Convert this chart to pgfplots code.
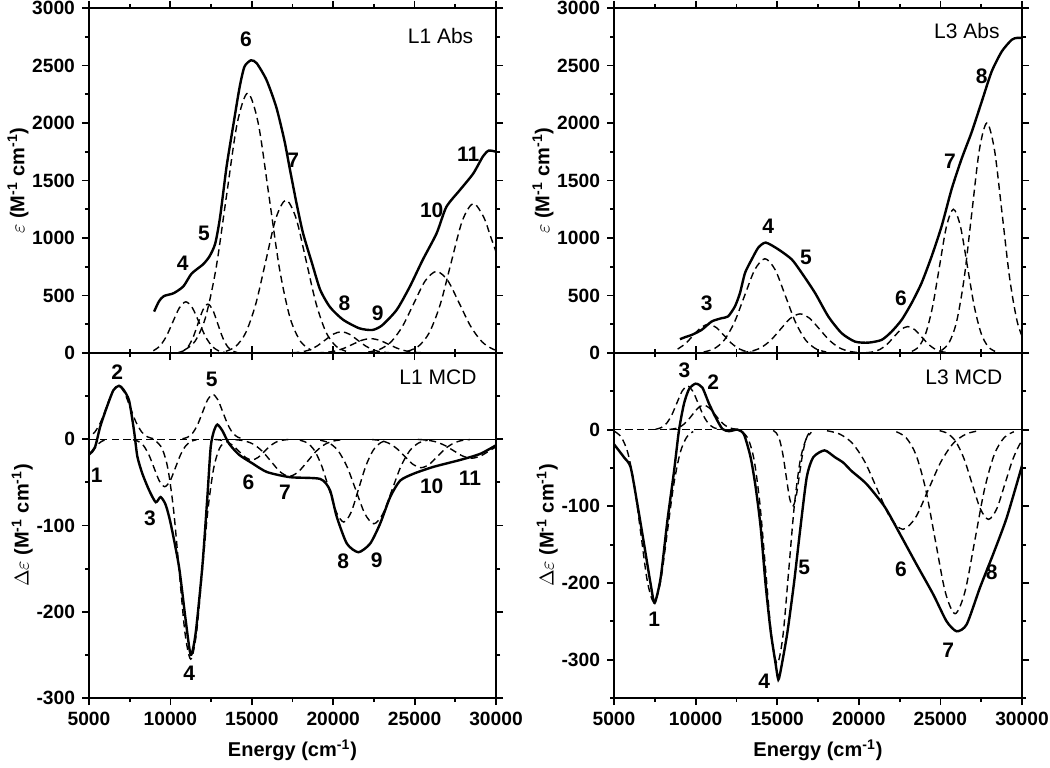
\documentclass[border=0pt]{standalone}
\usepackage{fontspec}
\setmainfont{Liberation Sans}
\usepackage{pgfplots}
\pgfplotsset{compat=1.18}

\pgfplotsset{
  spec/.style={
    scale only axis, xmin=5000, xmax=30000,
    xtick={5000,10000,15000,20000,25000,30000},
    minor xtick={7500,12500,17500,22500,27500},
    tick align=outside,
    axis line style={line width=1.1pt},
    major tick length=3.5pt, minor tick length=2pt,
    tick style={black, line width=0.9pt},
    scaled ticks=false,
    /pgf/number format/1000 sep={},
    /pgf/number format/assume math mode=true,
    tick label style={font=\fontsize{9.6}{11}\selectfont\bfseries},
    label style={font=\fontsize{10}{12}\selectfont\bfseries},
    ylabel shift=-5pt,
  },
  absax/.style={spec, width=203.5pt, height=172.5pt, ymin=0, ymax=3000,
    ytick={0,500,1000,1500,2000,2500,3000},
    minor ytick={250,750,1250,1750,2250,2750},
    xticklabels={},
    ylabel={$\varepsilon$ (M\textsuperscript{-1} cm\textsuperscript{-1})}},
  mcdax/.style={spec, width=203.5pt, height=172.5pt, ymax=100,
    ytick={-300,-200,-100,0},
    xlabel={Energy (cm\textsuperscript{-1})},
    ylabel={$\Delta\varepsilon$ (M\textsuperscript{-1} cm\textsuperscript{-1})}},
}
\tikzset{
  tot/.style={black, line width=1.2pt, smooth, tension=0.4},
  cmp/.style={black, line width=0.7pt, dash pattern=on 3.5pt off 2.2pt, smooth},
  pk/.style={font=\fontsize{10.5}{12}\selectfont\bfseries, inner sep=0pt},
  tag/.style={font=\fontsize{10.5}{12}\selectfont, anchor=east, inner sep=0pt},
}

\begin{document}
\begin{tikzpicture}
\path[use as bounding box] (0,0) rectangle (525pt,383.5pt);

% ---------------- L1 Abs ----------------
\begin{axis}[absax, at={(44.5pt,207pt)}, anchor=south west]
\addplot[cmp] coordinates {(8950,19.5)(9350,60.2)(9750,144.5)(10150,269.9)(10550,392.7)(10950,445)(11350,392.7)(11750,269.9)(12150,144.5)(12550,60.2)(12950,19.5)(13350,4.9)};
\addplot[cmp] coordinates {(10500,4.7)(10800,18.7)(11100,57.5)(11400,138.0)(11700,257.8)(12000,375.1)(12300,425)(12600,375.1)(12900,257.8)(13200,138.0)(13500,57.5)(13800,18.7)(14100,4.7)};
\addplot[cmp] coordinates {(10850,25.1)(11500,99.2)(12150,305.8)(12800,733.8)(13450,1370.7)(14100,1994.5)(14750,2260)(15400,1994.5)(16050,1370.7)(16700,733.8)(17350,305.8)(18000,99.2)(18650,25.1)};
\addplot[cmp] coordinates {(13410,14.8)(14025,58.4)(14640,180.0)(15255,431.9)(15870,806.6)(16485,1173.7)(17100,1330)(17715,1173.7)(18330,806.6)(18945,431.9)(19560,180.0)(20175,58.4)(20790,14.8)};
\addplot[cmp] coordinates {(17500,2.1)(18000,8.1)(18500,25.0)(19000,60.1)(19500,112.2)(20000,163.3)(20500,185)(21000,163.3)(21500,112.2)(22000,60.1)(22500,25.0)(23000,8.1)(23500,2.1)};
\addplot[cmp] coordinates {(19000,1.4)(19550,5.5)(20100,16.9)(20650,40.6)(21200,75.8)(21750,110.3)(22300,125)(22850,110.3)(23400,75.8)(23950,40.6)(24500,16.9)(25050,5.5)(25600,1.4)};
\addplot[cmp] coordinates {(22150,7.9)(22850,31.2)(23550,96.1)(24250,230.5)(24950,430.6)(25650,626.6)(26350,710)(27050,626.6)(27750,430.6)(28450,230.5)(29150,96.1)(29850,31.2)(30550,7.9)};
\addplot[cmp] coordinates {(24550,14.4)(25225,57.1)(25900,175.9)(26575,422.1)(27250,788.5)(27925,1147.3)(28600,1300)(29250,1180)(29650,1020)(30000,880)(30400,700)};
\addplot[tot] coordinates {(9000,360)(9300,450)(9600,495)(10200,520)(10800,580)(11300,690)(12000,770)(12400,840)(12750,950)(13050,1180)(13450,1620)(13850,1970)(14250,2310)(14550,2490)(14950,2545)(15300,2520)(15900,2375)(16500,2140)(17000,1850)(17350,1590)(17750,1300)(18150,1040)(18700,780)(19200,550)(19800,400)(20600,290)(21600,215)(22400,200)(23000,240)(23900,375)(24700,575)(25500,810)(26350,1040)(26950,1270)(27800,1420)(28600,1560)(29200,1710)(29550,1760)(30000,1750)};
\node[tag] at (rel axis cs:0.945,0.92) {L1 Abs};
\node[pk] at (axis cs:10755,780) {4};
\node[pk] at (axis cs:12065,1041) {5};
\node[pk] at (axis cs:14645,2728) {6};
\node[pk] at (axis cs:17550,1678) {7};
\node[pk] at (axis cs:20685,432) {8};
\node[pk] at (axis cs:22735,345) {9};
\node[pk] at (axis cs:26050,1243) {10};
\node[pk] at (axis cs:28300,1730) {11};
\end{axis}

% ---------------- L1 MCD ----------------
\begin{axis}[mcdax, at={(44.5pt,34.5pt)}, anchor=south west, ymin=-300,
  minor ytick={-250,-150,-50,50}]
\addplot[cmp] coordinates {(5000,0)(30000,0)};
\addplot[black, line width=0.7pt] coordinates {(13200,0)(30000,0)};
\addplot[cmp] coordinates {(4700,-25)(4950,-22.1)(5200,-15.2)(5450,-8.1)(5700,-3.4)(5950,-1.1)(6200,-0.3)};
\addplot[cmp] coordinates {(4640,0.7)(5000,2.7)(5360,8.4)(5720,20.1)(6080,37.6)(6440,54.7)(6800,62)(7160,54.7)(7520,37.6)(7880,20.1)(8240,8.4)(8600,2.7)(8960,0.7)};
\addplot[cmp] coordinates {(7700,-0.6)(8025,-2.4)(8350,-7.4)(8675,-17.9)(9000,-33.4)(9325,-48.5)(9650,-55)(9975,-48.5)(10300,-33.4)(10625,-17.9)(10950,-7.4)(11275,-2.4)(11600,-0.6)};
\addplot[cmp] coordinates {(9150,-2.8)(9500,-11.2)(9850,-34.5)(10200,-82.8)(10550,-154.7)(10900,-225.0)(11250,-255)(11600,-225.0)(11950,-154.7)(12300,-82.8)(12650,-34.5)(13000,-11.2)(13350,-2.8)};
\addplot[cmp] coordinates {(10740,0.6)(11050,2.3)(11360,7.0)(11670,16.9)(11980,31.5)(12290,45.9)(12600,52)(12910,45.9)(13220,31.5)(13530,16.9)(13840,7.0)(14150,2.3)(14460,0.6)};
\addplot[cmp] coordinates {(12750,-0.3)(13125,-1.1)(13500,-3.2)(13875,-7.8)(14250,-14.6)(14625,-21.2)(15000,-24)(15375,-21.2)(15750,-14.6)(16125,-7.8)(16500,-3.2)(16875,-1.1)(17250,-0.3)};
\addplot[cmp] coordinates {(14000,-0.5)(14550,-1.9)(15100,-5.8)(15650,-14.0)(16200,-26.1)(16750,-37.9)(17300,-43)(17850,-37.9)(18400,-26.1)(18950,-14.0)(19500,-5.8)(20050,-1.9)(20600,-0.5)};
\addplot[cmp] coordinates {(17950,-1.1)(18400,-4.2)(18850,-13.0)(19300,-31.2)(19750,-58.2)(20200,-84.7)(20650,-96)(21100,-84.7)(21550,-58.2)(22000,-31.2)(22450,-13.0)(22900,-4.2)(23350,-1.1)};
\addplot[cmp] coordinates {(19200,-1.1)(19750,-4.3)(20300,-13.3)(20850,-31.8)(21400,-59.4)(21950,-86.5)(22500,-98)(23050,-86.5)(23600,-59.4)(24150,-31.8)(24700,-13.3)(25250,-4.3)(25800,-1.1)};
\addplot[cmp] coordinates {(22400,-0.4)(22900,-1.4)(23400,-4.5)(23900,-10.7)(24400,-20.0)(24900,-29.1)(25400,-33)(25900,-29.1)(26400,-20.0)(26900,-10.7)(27400,-4.5)(27900,-1.4)(28400,-0.4)};
\addplot[cmp] coordinates {(25200,-0.2)(25750,-1.0)(26300,-3.0)(26850,-7.1)(27400,-13.3)(27950,-19.4)(28500,-22)(29050,-19.4)(29600,-13.3)(30150,-7.1)};
\addplot[tot] coordinates {(5000,-18)(5370,-9)(5680,14)(6090,37)(6500,57)(6840,62)(7100,58)(7460,45)(7765,10)(7970,-20)(8280,-40)(8690,-59)(9100,-73)(9400,-67)(9710,-76)(10020,-98)(10530,-148)(10940,-210)(11250,-250)(11550,-225)(11960,-148)(12270,-67)(12475,-9)(12680,10)(12885,17)(13190,10)(13600,-5)(14220,-18)(15040,-28)(15930,-38)(17360,-44)(19200,-46)(19800,-59)(20220,-90)(20840,-121)(21550,-131)(22270,-121)(22880,-98)(23500,-67)(24110,-48)(24930,-40)(26160,-32)(27800,-24)(29020,-17)(30000,-7)};
\node[tag] at (rel axis cs:0.953,0.93) {L1 MCD};
\node[pk] at (axis cs:5470,-41.7) {1};
\node[pk] at (axis cs:6740,78) {2};
\node[pk] at (axis cs:8750,-92) {3};
\node[pk] at (axis cs:11160,-271) {4};
\node[pk] at (axis cs:12535,70) {5};
\node[pk] at (axis cs:14790,-49.4) {6};
\node[pk] at (axis cs:17040,-61) {7};
\node[pk] at (axis cs:20620,-142) {8};
\node[pk] at (axis cs:22675,-140) {9};
\node[pk] at (axis cs:26050,-55) {10};
\node[pk] at (axis cs:28400,-45.5) {11};
\end{axis}

% ---------------- L3 Abs ----------------
\begin{axis}[absax, at={(307pt,207pt)}, anchor=south west, width=204pt]
\addplot[cmp] coordinates {(8900,33.8)(9375,81.2)(9850,151.6)(10325,220.6)(10800,250)(11275,220.6)(11750,151.6)(12225,81.2)(12700,33.8)(13175,11.0)(13650,2.8)};
\addplot[cmp] coordinates {(10500,9.1)(11125,36.0)(11750,110.9)(12375,266.3)(13000,497.3)(13625,723.7)(14250,820)(14875,723.7)(15500,497.3)(16125,266.3)(16750,110.9)(17375,36.0)(18000,9.1)};
\addplot[cmp] coordinates {(12800,3.8)(13400,14.9)(14000,46.0)(14600,110.4)(15200,206.2)(15800,300.1)(16400,340)(17000,300.1)(17600,206.2)(18200,110.4)(18800,46.0)(19400,14.9)(20000,3.8)};
\addplot[cmp] coordinates {(20450,2.6)(20875,10.1)(21300,31.1)(21725,74.7)(22150,139.5)(22575,203.0)(23000,230)(23425,203.0)(23850,139.5)(24275,74.7)(24700,31.1)(25125,10.1)(25550,2.6)};
\addplot[cmp] coordinates {(23250,13.9)(23675,54.9)(24100,169.1)(24525,405.9)(24950,758.1)(25375,1103.1)(25800,1250)(26225,1103.1)(26650,758.1)(27075,405.9)(27500,169.1)(27925,54.9)(28350,13.9)};
\addplot[cmp] coordinates {(25060,22.2)(25525,87.8)(25990,270.6)(26455,649.4)(26920,1213.0)(27385,1765.0)(27850,2000)(28315,1765.0)(28780,1213.0)(29245,649.4)(29710,270.6)(30175,87.8)};
\addplot[tot] coordinates {(9040,120)(9400,140)(9760,157)(10370,201)(10985,274)(11600,303)(11990,318)(12410,405)(12720,522)(13030,697)(13440,814)(13840,916)(14300,960)(15070,901)(15890,814)(16500,697)(17320,522)(18130,318)(18950,172)(19770,99)(20580,90)(21400,114)(22010,186)(22630,289)(23240,435)(23850,610)(24470,843)(25080,1105)(25690,1426)(26300,1689)(26920,1922)(27530,2185)(28140,2447)(28760,2622)(29370,2724)(29700,2740)(30000,2740)};
\node[tag] at (rel axis cs:0.946,0.933) {L3 Abs};
\node[pk] at (axis cs:10680,429) {3};
\node[pk] at (axis cs:14455,1100) {4};
\node[pk] at (axis cs:16765,828) {5};
\node[pk] at (axis cs:22585,472) {6};
\node[pk] at (axis cs:25590,1668) {7};
\node[pk] at (axis cs:27530,2403) {8};
\end{axis}

% ---------------- L3 MCD ----------------
\begin{axis}[mcdax, at={(307pt,34.5pt)}, anchor=south west, width=204pt, ymin=-350,
  minor ytick={-350,-250,-150,-50,50}]
\addplot[cmp] coordinates {(5000,0)(30000,0)};
\addplot[black, line width=0.7pt] coordinates {(11600,0)(30000,0)};
\addplot[cmp] coordinates {(5050,-2.5)(5450,-9.9)(5850,-30.4)(6250,-73.1)(6650,-136.5)(7050,-198.6)(7450,-225)(7850,-198.6)(8250,-136.5)(8650,-73.1)(9050,-30.4)(9450,-9.9)(9850,-2.5)};
\addplot[cmp] coordinates {(7550,0.6)(7875,2.5)(8200,7.7)(8525,18.5)(8850,34.6)(9175,50.3)(9500,57)(9825,50.3)(10150,34.6)(10475,18.5)(10800,7.7)(11125,2.5)(11450,0.6)};
\addplot[cmp] coordinates {(8400,0.4)(8750,1.4)(9100,4.3)(9450,10.4)(9800,19.4)(10150,28.2)(10500,32)(10850,28.2)(11200,19.4)(11550,10.4)(11900,4.3)(12250,1.4)(12600,0.4)};
\addplot[cmp] coordinates {(12900,-3.4)(13250,-13.4)(13600,-41.3)(13950,-99.0)(14300,-185.0)(14650,-269.2)(15000,-305)(15350,-269.2)(15700,-185.0)(16050,-99.0)(16400,-41.3)(16750,-13.4)(17100,-3.4)};
\addplot[cmp] coordinates {(14750,-1.1)(14950,-4.4)(15150,-13.5)(15350,-32.5)(15550,-60.7)(15750,-88.3)(15950,-100)(16150,-88.3)(16350,-60.7)(16550,-32.5)(16750,-13.5)(16950,-4.4)(17150,-1.1)};
\addplot[cmp] coordinates {(18050,-1.4)(18825,-5.7)(19600,-17.6)(20375,-42.2)(21150,-78.8)(21925,-114.7)(22700,-130)(23475,-114.7)(24250,-78.8)(25025,-42.2)(25800,-17.6)(26575,-5.7)(27350,-1.4)};
\addplot[cmp] coordinates {(22300,-2.7)(22900,-10.5)(23500,-32.5)(24100,-77.9)(24700,-145.6)(25300,-211.8)(25900,-240)(26500,-211.8)(27100,-145.6)(27700,-77.9)(28300,-32.5)(28900,-10.5)(29500,-2.7)};
\addplot[cmp] coordinates {(24950,-1.3)(25450,-5.1)(25950,-15.8)(26450,-38.0)(26950,-71.0)(27450,-103.3)(27950,-117)(28450,-103.3)(28950,-71.0)(29450,-38.0)(29950,-15.8)(30450,-5.1)};
\addplot[tot] coordinates {(5000,-19)(5610,-36)(6020,-49)(6430,-97)(6840,-149)(7250,-202)(7490,-226)(7860,-193)(8270,-119)(8680,-54)(8980,-1)(9290,34)(9600,53)(10000,60)(10410,55)(10820,34)(11230,16)(11640,1)(12050,-2)(12560,0)(12960,-6)(13370,-36)(13680,-75)(13990,-128)(14290,-202)(14600,-263)(14900,-305)(15070,-326)(15250,-310)(15620,-265)(16030,-200)(16400,-132)(16810,-62)(17210,-36)(17900,-27)(18540,-36)(19050,-43)(19560,-54)(20480,-71)(21600,-101)(22520,-136)(23545,-176)(24565,-215)(25380,-250)(25995,-263)(26610,-254)(27425,-206)(28240,-162)(29060,-115)(30000,-47)};
\node[tag] at (rel axis cs:0.953,0.931) {L3 MCD};
\node[pk] at (axis cs:7470,-247) {1};
\node[pk] at (axis cs:11085,62) {2};
\node[pk] at (axis cs:9310,77) {3};
\node[pk] at (axis cs:14210,-328) {4};
\node[pk] at (axis cs:16660,-180) {5};
\node[pk] at (axis cs:22585,-182) {6};
\node[pk] at (axis cs:25480,-288) {7};
\node[pk] at (axis cs:28140,-186) {8};
\end{axis}
\end{tikzpicture}
\end{document}
